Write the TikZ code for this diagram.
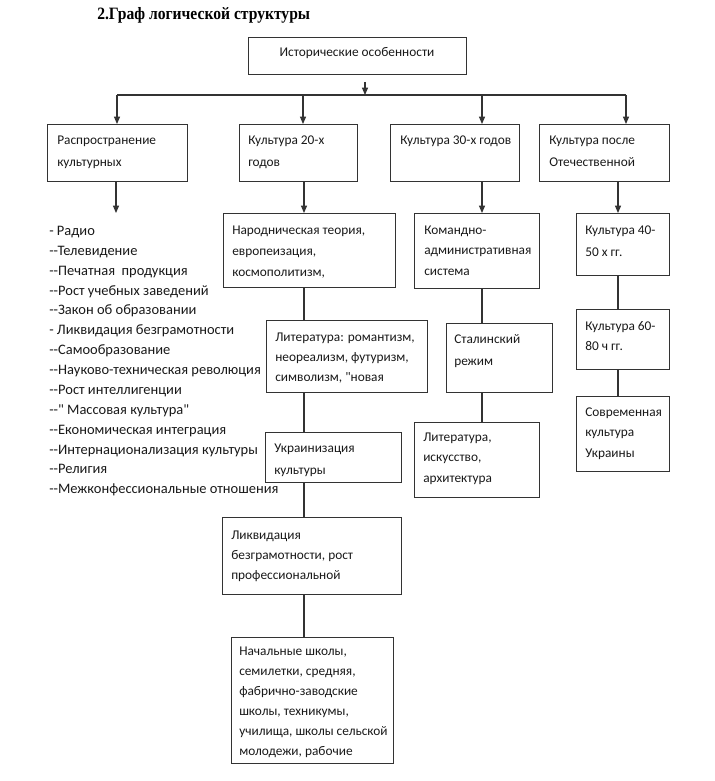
\documentclass[tikz,border=0pt]{standalone}
\usetikzlibrary{arrows.meta}
\font\bxf="Carlito" at 10pt
\font\lsf="Carlito" at 10.85pt
\font\ttlf="Liberation Serif/B:extend=0.9" at 13pt
\newcommand\lns[2][15.4pt]{\parbox[t]{8cm}{\raggedright\baselineskip=#1\relax #2}}
\newcommand\mybox[5]{\node[bx, minimum width={(#4-#2)*0.75pt}, minimum height={(#5-#3)*0.75pt}] (#1) at (#2,#3) {};}
\tikzset{
  bx/.style={draw=black!80, line width=0.8pt, inner sep=0pt, anchor=north west},
  tx/.style={anchor=base west, inner sep=0pt, font=\bxf, text=black!90},
  ln/.style={draw=black!80, line width=0.8pt},
  ar/.style={ln, -{Triangle[length=5.5pt,width=4.5pt]}}
}
\begin{document}
\begin{tikzpicture}[x=0.75pt,y=-0.75pt]
\useasboundingbox (0,0) rectangle (714,781);
% title
\node[anchor=base west, inner sep=0pt, font=\ttlf] (title) at (97,19.5) {2.Граф логической структуры};
% boxes
\mybox{top}{248}{37}{466}{74}
\mybox{b1}{47}{124}{187}{181}
\mybox{b2}{239}{124}{357}{181}
\mybox{b3}{390}{124}{519}{181}
\mybox{b4}{539}{124}{669}{181}
\mybox{n1}{223}{213}{395}{287}
\mybox{n2}{266}{320}{427}{392}
\mybox{n3}{265}{432}{401}{482}
\mybox{n4}{222}{517}{401}{594}
\mybox{n5}{231}{637}{393}{763}
\mybox{k1}{414}{213}{539}{288}
\mybox{k2}{446}{323}{552}{392}
\mybox{k3}{414}{422}{539}{497}
\mybox{r1}{576}{213}{669}{275}
\mybox{r2}{576}{309}{669}{369}
\mybox{r3}{576}{396}{669}{471}
% texts
\node[tx, anchor=base] (ttop) at (357,57) {Исторические особенности};
\node[tx] (tb1) at ([shift={(10,21)}]b1.north west) {\lns[15.8pt]{Распространение\\культурных}};
\node[tx] (tb2) at ([shift={(9,21)}]b2.north west) {\lns[15.8pt]{Культура 20-х\\годов}};
\node[tx] (tb3) at ([shift={(10,21)}]b3.north west) {\lns{Культура 30-х годов}};
\node[tx] (tb4) at ([shift={(10,21)}]b4.north west) {\lns[15.8pt]{Культура после\\Отечественной}};
\node[tx] (tn1) at ([shift={(9,21)}]n1.north west) {\lns[15.8pt]{Народническая теория,\\европеизация,\\космополитизм,}};
\node[tx] (tn2) at ([shift={(9,21)}]n2.north west) {\lns[15pt]{Литература: романтизм,\\неореализм, футуризм,\\символизм, "новая}};
\node[tx] (tn3) at ([shift={(9,20)}]n3.north west) {\lns[16.5pt]{Украинизация\\культуры}};
\node[tx] (tn4) at ([shift={(9,22)}]n4.north west) {\lns[15pt]{Ликвидация\\безграмотности, рост\\профессиональной}};
\node[tx] (tn5) at ([shift={(8,18)}]n5.north west) {\lns[15pt]{Начальные школы,\\семилетки, средняя,\\фабрично-заводские\\школы, техникумы,\\училища, школы сельской\\молодежи, рабочие}};
\node[tx] (tk1) at ([shift={(10,21)}]k1.north west) {\lns[15.4pt]{Командно-\\административная\\система}};
\node[tx] (tk2) at ([shift={(8,20)}]k2.north west) {\lns[16.5pt]{Сталинский\\режим}};
\node[tx] (tk3) at ([shift={(9,19)}]k3.north west) {\lns[15.4pt]{Литература,\\искусство,\\архитектура}};
\node[tx] (tr1) at ([shift={(9,21)}]r1.north west) {\lns[16.5pt]{Культура 40-\\50 х гг.}};
\node[tx] (tr2) at ([shift={(9,21)}]r2.north west) {\lns[15.4pt]{Культура 60-\\80 ч гг.}};
\node[tx] (tr3) at ([shift={(9,20)}]r3.north west) {\lns[15.4pt]{Современная\\культура\\Украины}};
% list
\node[tx, font=\lsf] (list) at (49,235.5) {\lns[14.9pt]{- Радио\\--Телевидение\\--Печатная\ \ продукция\\--Рост учебных заведений\\--Закон об образовании\\- Ликвидация безграмотности\\--Самообразование\\--Науково-техническая революция\\--Рост интеллигенции\\--" Массовая культура"\\--Економическая интеграция\\--Интернационализация культуры\\--Религия\\--Межконфессиональные отношения}};
% connectors
\coordinate (tA) at (365,82);
\coordinate (tB) at (365,95);
\draw[ar] (tA) -- (tB);
\coordinate (busL) at (117,95);
\coordinate (busR) at (626,95);
\coordinate (d2) at (303,95);
\coordinate (d3) at (482,95);
\draw[ln] (busL) -- (busR);
\draw[ar] (busL) -- (busL |- b1.north);
\draw[ar] (d2) -- (d2 |- b2.north);
\draw[ar] (d3) -- (d3 |- b3.north);
\draw[ar] (busR) -- (busR |- b4.north);
\coordinate (l0) at (116,213);
\draw[ar] (l0 |- b1.south) -- (l0);
\coordinate (cm) at (304,0);
\coordinate (ck) at (482,0);
\coordinate (cr) at (618,0);
\draw[ar] (cm |- b2.south) -- (cm |- n1.north);
\draw[ln] (cm |- n1.south) -- (cm |- n2.north);
\draw[ln] (cm |- n2.south) -- (cm |- n3.north);
\draw[ln] (cm |- n3.south) -- (cm |- n4.north);
\draw[ln] (cm |- n4.south) -- (cm |- n5.north);
\draw[ar] (ck |- b3.south) -- (ck |- k1.north);
\draw[ln] (ck |- k1.south) -- (ck |- k2.north);
\draw[ln] (ck |- k2.south) -- (ck |- k3.north);
\draw[ar] (cr |- b4.south) -- (cr |- r1.north);
\draw[ln] (cr |- r1.south) -- (cr |- r2.north);
\draw[ln] (cr |- r2.south) -- (cr |- r3.north);
\end{tikzpicture}
\end{document}
